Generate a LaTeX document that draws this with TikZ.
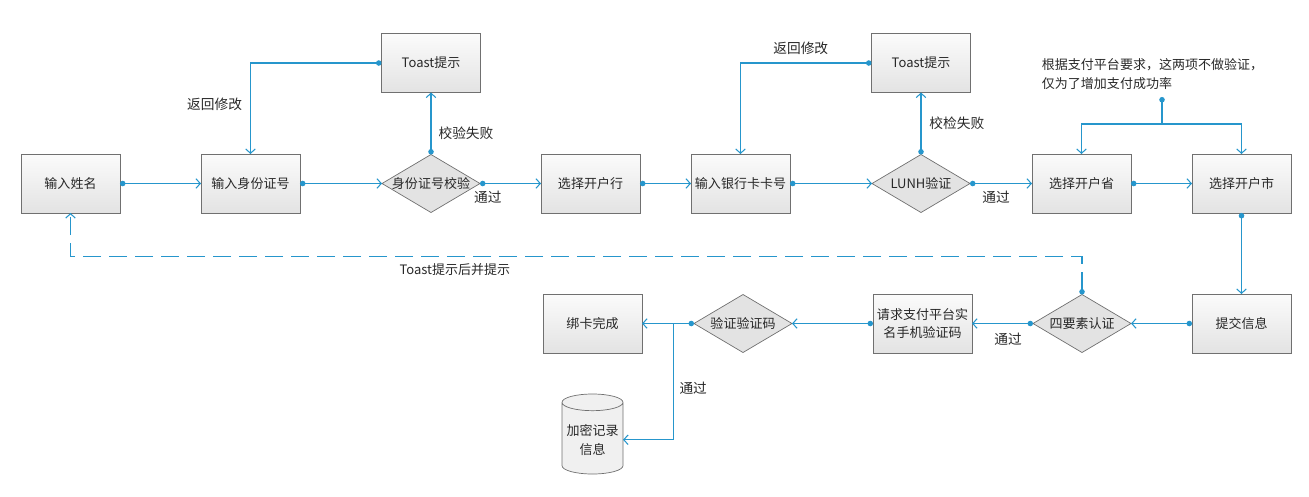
\documentclass[tikz,border=0pt]{standalone}
\usepackage{fontspec}
\setmainfont{Noto Sans CJK SC}
\usepackage{tikz}
\usetikzlibrary{shapes.geometric, arrows.meta, positioning, calc}
\definecolor{linkblue}{RGB}{38,150,204}
\definecolor{boxedge}{RGB}{112,112,112}
\definecolor{txtgray}{RGB}{40,40,40}

\begin{document}
\begin{tikzpicture}[
    font=\fontsize{7.4}{10.8}\selectfont, text=txtgray,
    process/.style={rectangle, draw=boxedge, top color=gray!3, bottom color=gray!22, minimum width=1.98cm, minimum height=1.18cm, align=center, inner sep=1pt, outer sep=0pt},
    decision/.style={diamond, draw=boxedge, fill=gray!22, aspect=1.69, minimum width=1.96cm, minimum height=1.16cm, inner xsep=-3pt, inner ysep=0pt, outer sep=0pt, align=center},
    store/.style={cylinder, shape border rotate=90, aspect=0.3, draw=boxedge, fill=gray!12, minimum width=1.22cm, minimum height=1.6cm, align=center, inner sep=1pt, outer sep=0pt},
    link/.style={draw=linkblue, line width=0.6pt, {Circle[length=3.1pt]}-{Straight Barb[length=2.5pt,width=5.5pt]}},
    branch/.style={draw=linkblue, line width=0.6pt, -{Straight Barb[length=2.5pt,width=5.5pt]}},
    dashlink/.style={link, dash pattern=on 0.36cm off 0.16cm},
    lbl/.style={inner sep=1pt, font=\fontsize{7.8}{10}\selectfont},
]
\useasboundingbox (0,0) rectangle (26.18,-9.92);

% Nodes
\node [process] (name) at (1.41,-3.67) {输入姓名};
\node [process, right=1.62cm of name] (idno) {输入身份证号};
\node [decision, right=1.64cm of idno] (idchk) {身份证号校验};
\node [process, above=1.24cm of idchk] (toasta) {Toast提示};
\node [process, right=1.22cm of idchk] (bank) {选择开户行};
\node [process, right=1.02cm of bank] (card) {输入银行卡卡号};
\node [decision, right=1.64cm of card] (lunh) {LUNH验证};
\node [process, above=1.24cm of lunh] (toastb) {Toast提示};
\node [process, right=1.24cm of lunh] (prov) {选择开户省};
\node [process, right=1.22cm of prov] (city) {选择开户市};
\node [process, below=1.62cm of city] (submit) {提交信息};
\node [decision, left=1.22cm of submit] (four) {四要素认证};
\node [process, left=1.22cm of four] (sms) {请求支付平台实\\名手机验证码};
\node [decision, left=1.62cm of sms] (vcode) {验证验证码};
\node [process, left=1.04cm of vcode] (done) {绑卡完成};
\node [store, below=0.82cm of done] (cyl) {加密记录\\信息};
\node [align=left] (note) at (23.05,-1.49) {根据支付平台要求，这两项不做验证，\\仅为了增加支付成功率};

% Arcs/Paths
\draw [link] (name.east) -- (idno.west);
\draw [link] (idno.east) -- (idchk.west);
\draw [link] (idchk.east) -- node[lbl, below=3pt, pos=0.13] {通过} (bank.west);
\draw [link] (idchk.north) -- node[lbl, right=3pt, pos=0.34] {校验失败} (toasta.south);
\draw [link] (toasta.west) -| node[lbl, left=3.5pt, pos=0.725] {返回修改} (idno.north);
\draw [link] (bank.east) -- (card.west);
\draw [link] (card.east) -- (lunh.west);
\draw [link] (lunh.north) -- node[lbl, right=3.5pt, pos=0.5] {校检失败} (toastb.south);
\draw [link] (toastb.west) -| node[lbl, above=3.5pt, pos=0.27] {返回修改} (card.north);
\draw [link] (lunh.east) -- node[lbl, below=3pt, pos=0.42] {通过} (prov.west);
\draw [link] (prov.east) -- (city.west);
\draw [link] (city.south) -- (submit.north);
\draw [link] (submit.west) -- (four.east);
\draw [link] (four.west) -- node[lbl, below=4pt, pos=0.41] {通过} (sms.east);
\draw [link] (sms.west) -- (vcode.east);
\draw [link] (vcode.west) -- (done.east);
\coordinate (vsplit) at ($(vcode.west)!0.39!(done.east)$);
\draw [branch] (vsplit) |- node[lbl, right=2pt, pos=0.28] {通过} (cyl.east);

% note on the two selects
\coordinate (ndot) at (23.24,-1.94);
\coordinate (nsplit) at (23.24,-2.48);
\draw [link] (ndot) -- (nsplit) -| (prov.north);
\draw [branch] (nsplit) -| (city.north);

% back to the start
\coordinate (dturn) at ($(four.north)+(0,0.76)$);
\draw [dashlink] (four.north) -- (dturn) -- node[lbl, font=\fontsize{7.4}{10}\selectfont, below=2.5pt, pos=0.62] {Toast提示后并提示} (dturn -| name.south) -- (name.south);

\end{tikzpicture}
\end{document}
